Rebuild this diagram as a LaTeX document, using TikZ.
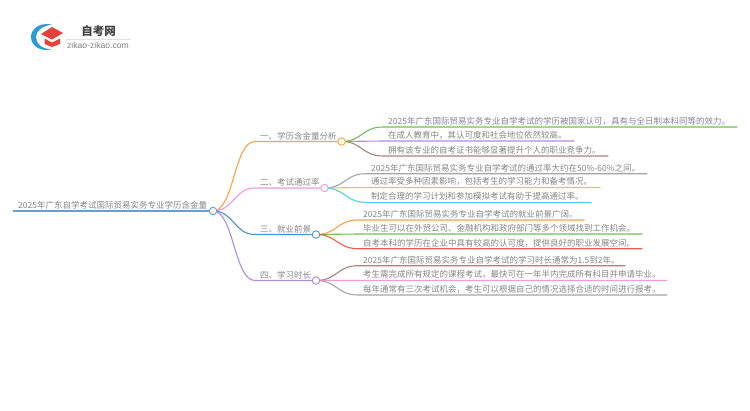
\documentclass[tikz,border=0pt]{standalone}
\usepackage{fontspec}
\setmainfont{Noto Sans CJK SC}
\newfontfamily\latinfont{Liberation Sans}
\definecolor{cRoot}{HTML}{6A9FCB}
\definecolor{cOne}{HTML}{FFA04D}
\definecolor{cTwo}{HTML}{F09AD8}
\definecolor{cThree}{HTML}{4F8FCB}
\definecolor{cFour}{HTML}{B08AD8}
\definecolor{cGreen}{HTML}{6CC05A}
\definecolor{cPurple}{HTML}{B68AD8}
\definecolor{cBrown}{HTML}{A9827A}
\definecolor{cGray}{HTML}{A5A5A5}
\definecolor{cOlive}{HTML}{CDCF5A}
\definecolor{cCyan}{HTML}{4FD3E2}
\definecolor{cRed}{HTML}{EE5A5A}
\definecolor{cPink}{HTML}{F59AD8}
\definecolor{txt}{HTML}{858585}
\definecolor{logoBlue}{HTML}{2E9BD6}
\definecolor{logoRed}{HTML}{E8403C}
\tikzset{
 x=1pt,y=-1pt,
 hub/.style={circle,draw=#1,fill=white,line width=0.9pt,minimum size=7.5pt,inner sep=0pt},
 lbl/.style={anchor=south west,inner sep=0pt,text=txt,font=\fontsize{8.5}{10}\selectfont,yshift=1.4pt},
 link/.style={draw=#1,line width=1.1pt,line cap=round},
 pin/.style={inner sep=0pt,minimum size=0pt},
}
\begin{document}
\begin{tikzpicture}
\useasboundingbox (0,0) rectangle (750,410);
% logo
\fill[logoBlue] (52,24.5) .. controls (38,22) and (31,30) .. (31,37) .. controls (31,45) and (39,52) .. (52,49.5)
  .. controls (42,49) and (36,44) .. (36,37) .. controls (36,31) and (42,26) .. (52,24.5) -- cycle;
\fill[logoRed] (41,34) -- (52,27) -- (63,33) -- (52,39.5) -- cycle;
\fill[logoRed] (44.5,38.5) -- (52,42.5) -- (60,38.5) -- (60,44) -- (52,47) -- (44.5,44) -- cycle;
\node[pin,font=\fontsize{11.5}{12}\selectfont\bfseries,text=black!75] (brand) at (98.5,31) {自考网};
\node[pin,font=\latinfont\fontsize{8.6}{9}\selectfont,text=black!50] (site) at (98,45) {zikao-zikao.com};
\draw[black!12,line width=0.6pt] (66,39.5) -- (131,39.5);
% hubs
\coordinate (rootL) at (13,211);
\coordinate (h0) at (213,211);
\coordinate (h1) at (341.5,141.5);
\coordinate (h2) at (324.5,188);
\coordinate (h3) at (316,234.5);
\coordinate (h4) at (316,280.5);
% root
\draw[cRoot,line width=1.5pt] (rootL) -- (h0);
% branches
\foreach \hh/\c/\sx in {h1/cOne/255,h2/cTwo/255,h3/cThree/255,h4/cFour/255}{
 \draw[link=\c] (h0) .. controls (234,211) and (234,0 |- \hh) .. (\sx,0 |- \hh) -- (\hh);
}
% leaves
\foreach \hh/\y/\ex/\ax/\c in {
 h1/127/737/383/cGreen,h1/141/574/383/cPurple,h1/156/608/383/cBrown,
 h2/173.7/647/366/cGray,h2/187.5/600/366/cOlive,h2/202.3/591/366/cCyan,
 h3/220/584/358/cOne,h3/234/642/358/cGreen,h3/248.7/642/358/cRed,
 h4/265.7/625/358/cBrown,h4/280.3/667/358/cPink,h4/295/667/358/cGray}{
 \pgfmathsetmacro{\mx}{\ax-21}
 \draw[link=\c] (\hh) .. controls (\mx,0 |- \hh) and (\mx,\y) .. (\ax,\y) -- (\ex,\y);
}
% hub circles
\node[hub=cRoot] (n0) at (h0) {};
\node[hub=cOne] (n1) at (h1) {};
\node[hub=cTwo] (n2) at (h2) {};
\node[hub=cThree] (n3) at (h3) {};
\node[hub=cFour] (n4) at (h4) {};
% labels
\node[lbl] (t0) at (18,211) {2025年广东自学考试国际贸易实务专业学历含金量};
\node[lbl] (t1) at (260,141.5) {一、学历含金量分析};
\node[lbl] (t2) at (260,188) {二、考试通过率};
\node[lbl] (t3) at (260,234.5) {三、就业前景};
\node[lbl] (t4) at (260,280.5) {四、学习时长};
\node[lbl] (a1) at (388,127) {2025年广东国际贸易实务专业自学考试的学历被国家认可，具有与全日制本科同等的效力。};
\node[lbl] (a2) at (388,141) {在成人教育中，其认可度和社会地位依然较高。};
\node[lbl] (a3) at (388,156) {拥有该专业的自考证书能够显著提升个人的职业竞争力。};
\node[lbl] (b1) at (371,173.7) {2025年广东国际贸易实务专业自学考试的通过率大约在50\%-60\%之间。};
\node[lbl] (b2) at (371,187.5) {通过率受多种因素影响，包括考生的学习能力和备考情况。};
\node[lbl] (b3) at (371,202.3) {制定合理的学习计划和参加模拟考试有助于提高通过率。};
\node[lbl] (c1) at (363,220) {2025年广东国际贸易实务专业自学考试的就业前景广阔。};
\node[lbl] (c2) at (363,234) {毕业生可以在外贸公司、金融机构和政府部门等多个领域找到工作机会。};
\node[lbl] (c3) at (363,248.7) {自考本科的学历在企业中具有较高的认可度，提供良好的职业发展空间。};
\node[lbl] (d1) at (363,265.7) {2025年广东国际贸易实务专业自学考试的学习时长通常为1.5到2年。};
\node[lbl] (d2) at (363,280.3) {考生需完成所有规定的课程考试，最快可在一年半内完成所有科目并申请毕业。};
\node[lbl] (d3) at (363,295) {每年通常有三次考试机会，考生可以根据自己的情况选择合适的时间进行报考。};
\end{tikzpicture}
\end{document}
